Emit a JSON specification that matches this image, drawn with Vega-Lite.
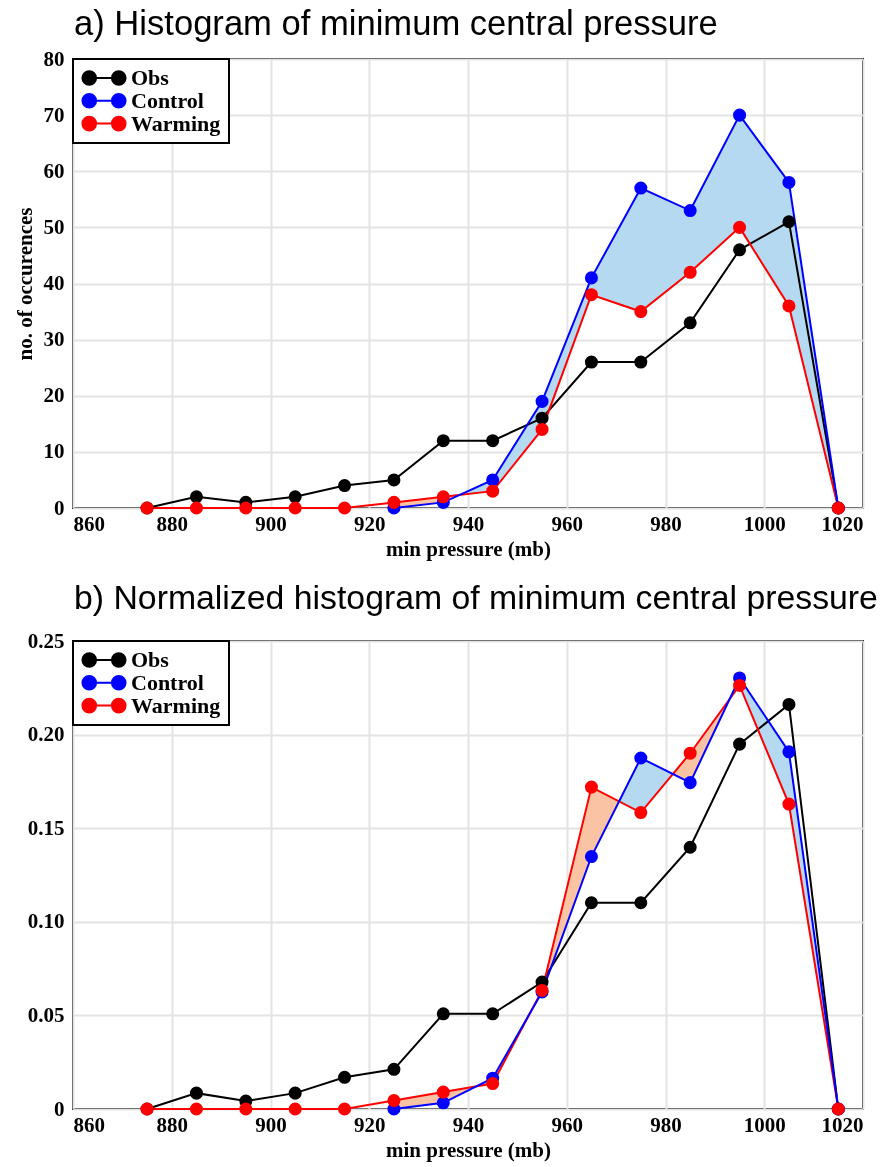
{
  "$schema": "https://vega.github.io/schema/vega-lite/v6.json",
  "background": "white",
  "padding": {"left": 13, "top": 6, "right": 5, "bottom": 5},
  "spacing": 21,
  "config": {
    "view": {"stroke": "black", "strokeWidth": 2},
    "axis": {"labelFont": "Liberation Serif", "labelFontWeight": "bold", "labelFontSize": 21, "labelColor": "black", "titleFont": "Liberation Serif", "titleFontWeight": "bold", "titleFontSize": 21, "titleColor": "black", "ticks": false, "domain": false, "gridColor": "#e3e3e3", "gridWidth": 2},
    "axisX": {"labelPadding": 5, "titlePadding": 4},
    "axisY": {"labelPadding": 9, "titlePadding": 8},
    "title": {"font": "Liberation Sans", "fontSize": 34.6, "fontWeight": "normal", "color": "black", "anchor": "start", "frame": "group"},
    "legend": {"orient": "top-left", "offset": 0, "padding": 8, "fillColor": "white", "strokeColor": "black", "labelFont": "Liberation Serif", "labelFontWeight": "bold", "labelFontSize": 22, "labelColor": "black", "symbolType": "M-0.67,0L0.67,0M-0.98,0A0.31,0.31 0 1,0 -0.36,0A0.31,0.31 0 1,0 -0.98,0ZM0.36,0A0.31,0.31 0 1,0 0.98,0A0.31,0.31 0 1,0 0.36,0Z", "symbolSize": 1936, "symbolStrokeWidth": 2, "symbolOpacity": 1, "clipHeight": 22, "rowPadding": 0.8, "labelOffset": 4}
  },
  "datasets": {
    "counts": [
      {"p": 875, "Obs": 0, "Control": null, "Warming": 0},
      {"p": 885, "Obs": 2, "Control": null, "Warming": 0},
      {"p": 895, "Obs": 1, "Control": null, "Warming": 0},
      {"p": 905, "Obs": 2, "Control": null, "Warming": 0},
      {"p": 915, "Obs": 4, "Control": null, "Warming": 0},
      {"p": 925, "Obs": 5, "Control": 0, "Warming": 1},
      {"p": 935, "Obs": 12, "Control": 1, "Warming": 2},
      {"p": 945, "Obs": 12, "Control": 5, "Warming": 3},
      {"p": 955, "Obs": 16, "Control": 19, "Warming": 14},
      {"p": 965, "Obs": 26, "Control": 41, "Warming": 38},
      {"p": 975, "Obs": 26, "Control": 57, "Warming": 35},
      {"p": 985, "Obs": 33, "Control": 53, "Warming": 42},
      {"p": 995, "Obs": 46, "Control": 70, "Warming": 50},
      {"p": 1005, "Obs": 51, "Control": 58, "Warming": 36},
      {"p": 1015, "Obs": 0, "Control": 0, "Warming": 0}
    ],
    "norm": [
      {"p": 875, "Obs": 0, "Control": null, "Warming": 0},
      {"p": 885, "Obs": 0.00847, "Control": null, "Warming": 0},
      {"p": 895, "Obs": 0.00424, "Control": null, "Warming": 0},
      {"p": 905, "Obs": 0.00847, "Control": null, "Warming": 0},
      {"p": 915, "Obs": 0.01695, "Control": null, "Warming": 0},
      {"p": 925, "Obs": 0.02119, "Control": 0, "Warming": 0.00452},
      {"p": 935, "Obs": 0.05085, "Control": 0.00329, "Warming": 0.00905},
      {"p": 945, "Obs": 0.05085, "Control": 0.01645, "Warming": 0.01357},
      {"p": 955, "Obs": 0.0678, "Control": 0.0625, "Warming": 0.06335},
      {"p": 965, "Obs": 0.11017, "Control": 0.13487, "Warming": 0.17195},
      {"p": 975, "Obs": 0.11017, "Control": 0.1875, "Warming": 0.15837},
      {"p": 985, "Obs": 0.13983, "Control": 0.17434, "Warming": 0.19005},
      {"p": 995, "Obs": 0.19492, "Control": 0.23026, "Warming": 0.22624},
      {"p": 1005, "Obs": 0.2161, "Control": 0.19079, "Warming": 0.1629},
      {"p": 1015, "Obs": 0, "Control": 0, "Warming": 0}
    ]
  },
  "resolve": {"scale": {"color": "independent", "y": "independent"}, "legend": {"color": "independent"}},
  "vconcat": [
    {
      "title": {"text": "a) Histogram of minimum central pressure", "offset": 5, "dx": 1},
      "width": 790,
      "height": 449,
      "data": {"name": "counts"},
      "encoding": {
        "x": {"field": "p", "type": "quantitative", "scale": {"domain": [860, 1020], "nice": false}, "axis": {"values": [860, 880, 900, 920, 940, 960, 980, 1000, 1020], "format": "d", "title": "min pressure (mb)"}}
      },
      "layer": [
        {
          "transform": [{"filter": "isValid(datum.Control)"}],
          "mark": {"type": "area", "color": "#fac4a4", "opacity": 1},
          "encoding": {
            "y": {"field": "Control", "type": "quantitative", "scale": {"domain": [0, 80], "nice": false}, "axis": {"values": [0, 10, 20, 30, 40, 50, 60, 70, 80], "title": "no. of occurences"}},
            "y2": {"field": "Warming"}
          }
        },
        {
          "transform": [{"filter": "isValid(datum.Control)"}],
          "mark": {"type": "area", "color": "#b2d6ee", "opacity": 1, "blend": "hue"},
          "encoding": {
            "y": {"field": "Control", "type": "quantitative", "axis": {"values": [0, 10, 20, 30, 40, 50, 60, 70, 80], "title": "no. of occurences"}}
          }
        },
        {
          "transform": [{"filter": "isValid(datum.Control)"}],
          "mark": {"type": "area", "color": "#b2d6ee", "opacity": 1, "blend": "saturation"},
          "encoding": {
            "y": {"field": "Control", "type": "quantitative", "axis": {"values": [0, 10, 20, 30, 40, 50, 60, 70, 80], "title": "no. of occurences"}}
          }
        },
        {
          "transform": [{"fold": ["Obs", "Control", "Warming"], "as": ["series", "value"]}, {"filter": "isValid(datum.value)"}],
          "mark": {"type": "line", "strokeWidth": 2},
          "encoding": {
            "y": {"field": "value", "type": "quantitative", "axis": {"values": [0, 10, 20, 30, 40, 50, 60, 70, 80], "title": "no. of occurences"}},
            "color": {"field": "series", "type": "nominal", "scale": {"domain": ["Obs", "Control", "Warming"], "range": ["black", "blue", "red"]}, "legend": {"title": null, "encode": {"legend": {"update": {"strokeWidth": {"value": 2}}}}}}
          }
        },
        {
          "transform": [{"fold": ["Obs", "Control", "Warming"], "as": ["series", "value"]}, {"filter": "isValid(datum.value)"}],
          "mark": {"type": "point", "filled": true, "size": 170, "opacity": 1},
          "encoding": {
            "y": {"field": "value", "type": "quantitative", "axis": {"values": [0, 10, 20, 30, 40, 50, 60, 70, 80], "title": "no. of occurences"}},
            "color": {"field": "series", "type": "nominal", "scale": {"domain": ["Obs", "Control", "Warming"], "range": ["black", "blue", "red"]}, "legend": {"title": null, "encode": {"legend": {"update": {"strokeWidth": {"value": 2}}}}}}
          }
        }
      ]
    },
    {
      "title": {"text": "b) Normalized histogram of minimum central pressure", "offset": 14, "fontSize": 33.8, "dx": 1},
      "width": 790,
      "height": 468,
      "data": {"name": "norm"},
      "encoding": {
        "x": {"field": "p", "type": "quantitative", "scale": {"domain": [860, 1020], "nice": false}, "axis": {"values": [860, 880, 900, 920, 940, 960, 980, 1000, 1020], "format": "d", "title": "min pressure (mb)"}}
      },
      "layer": [
        {
          "transform": [{"filter": "isValid(datum.Control)"}],
          "mark": {"type": "area", "color": "#fac4a4", "opacity": 1},
          "encoding": {
            "y": {"field": "Control", "type": "quantitative", "scale": {"domain": [0, 0.25], "nice": false}, "axis": {"values": [0, 0.05, 0.1, 0.15, 0.2, 0.25], "labelExpr": "datum.value == 0 ? '0' : format(datum.value, '.2f')", "title": null}},
            "y2": {"field": "Warming"}
          }
        },
        {
          "transform": [{"filter": "isValid(datum.Control)"}],
          "mark": {"type": "area", "color": "#b2d6ee", "opacity": 1, "blend": "hue"},
          "encoding": {
            "y": {"field": "Control", "type": "quantitative", "axis": {"values": [0, 0.05, 0.1, 0.15, 0.2, 0.25], "labelExpr": "datum.value == 0 ? '0' : format(datum.value, '.2f')", "title": null}}
          }
        },
        {
          "transform": [{"filter": "isValid(datum.Control)"}],
          "mark": {"type": "area", "color": "#b2d6ee", "opacity": 1, "blend": "saturation"},
          "encoding": {
            "y": {"field": "Control", "type": "quantitative", "axis": {"values": [0, 0.05, 0.1, 0.15, 0.2, 0.25], "labelExpr": "datum.value == 0 ? '0' : format(datum.value, '.2f')", "title": null}}
          }
        },
        {
          "transform": [{"fold": ["Obs", "Control", "Warming"], "as": ["series", "value"]}, {"filter": "isValid(datum.value)"}],
          "mark": {"type": "line", "strokeWidth": 2},
          "encoding": {
            "y": {"field": "value", "type": "quantitative", "axis": {"values": [0, 0.05, 0.1, 0.15, 0.2, 0.25], "labelExpr": "datum.value == 0 ? '0' : format(datum.value, '.2f')", "title": null}},
            "color": {"field": "series", "type": "nominal", "scale": {"domain": ["Obs", "Control", "Warming"], "range": ["black", "blue", "red"]}, "legend": {"title": null, "encode": {"legend": {"update": {"strokeWidth": {"value": 2}}}}}}
          }
        },
        {
          "transform": [{"fold": ["Obs", "Control", "Warming"], "as": ["series", "value"]}, {"filter": "isValid(datum.value)"}],
          "mark": {"type": "point", "filled": true, "size": 170, "opacity": 1},
          "encoding": {
            "y": {"field": "value", "type": "quantitative", "axis": {"values": [0, 0.05, 0.1, 0.15, 0.2, 0.25], "labelExpr": "datum.value == 0 ? '0' : format(datum.value, '.2f')", "title": null}},
            "color": {"field": "series", "type": "nominal", "scale": {"domain": ["Obs", "Control", "Warming"], "range": ["black", "blue", "red"]}, "legend": {"title": null, "encode": {"legend": {"update": {"strokeWidth": {"value": 2}}}}}}
          }
        }
      ]
    }
  ]
}
